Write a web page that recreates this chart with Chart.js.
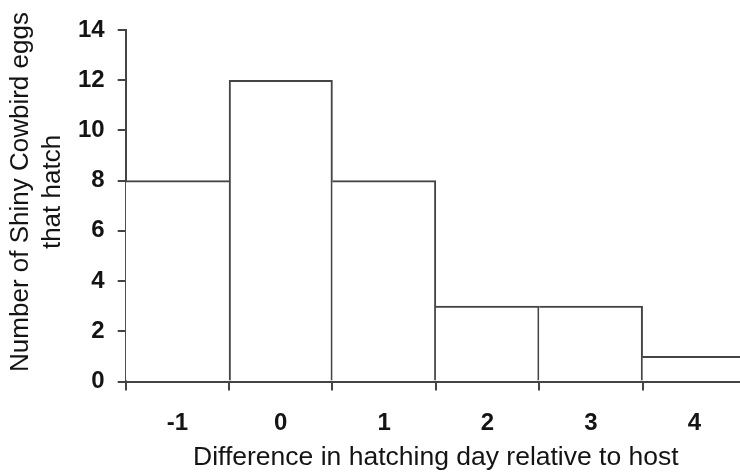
<!DOCTYPE html>
<html>
<head>
<meta charset="utf-8">
<script src="https://cdn.jsdelivr.net/npm/chart.js@4/dist/chart.umd.min.js"></script>
<style>
  body { margin: 0; background: #fff; overflow: hidden; }
  #wrap { width: 740px; height: 472px; overflow: hidden; }
</style>
</head>
<body>
<div id="wrap"><canvas id="myChart" width="746" height="472"></canvas></div>
<script>
'use strict';

let dayLabels = ['-1', '0', '1', '2', '3', '4'];
let hatchCounts = [8, 12, 8, 3, 3, 1];
let yTicks = [0, 2, 4, 6, 8, 10, 12, 14];
let yTitleLines = ['Number of Shiny Cowbird eggs', 'that hatch'];

let lineColor = '#444444';
let textColor = '#141414';

// only the taller bar draws the shared edge, so each edge is one line
function barBorder(context) {
  let i = context.dataIndex;
  let v = hatchCounts[i];
  let prev = i > 0 ? hatchCounts[i - 1] : Infinity;
  let next = i < hatchCounts.length - 1 ? hatchCounts[i + 1] : -1;
  return {
    top: 2,
    bottom: 0,
    left: v > prev ? 2 : 0,
    right: v >= next ? 2 : 0
  };
}

// y title sits a bit above the middle of the axis in the original
let yTitlePlugin = {
  id: 'yTitle',
  afterDraw(chart) {
    let c = chart.ctx;
    c.save();
    c.translate(0, 192);
    c.rotate(-Math.PI / 2);
    c.font = '26px "Liberation Sans"';
    c.fillStyle = textColor;
    c.textAlign = 'center';
    c.textBaseline = 'alphabetic';
    c.fillText(yTitleLines[0], 0, 28);
    c.fillText(yTitleLines[1], 0, 60);
    c.restore();
  }
};

function renderChart() {
  const ctx = document.getElementById('myChart');

  let config = {
    type: 'bar',
    data: {
      labels: dayLabels,
      datasets: [
        {
          label: 'Eggs that hatch',
          data: hatchCounts,
          backgroundColor: '#ffffff',
          borderColor: lineColor,
          borderWidth: barBorder,
          borderSkipped: false,
          barPercentage: 1,
          categoryPercentage: 1
        }
      ]
    },
    options: {
      responsive: false,
      animation: false,
      devicePixelRatio: 1,
      layout: {
        padding: {top: 30, left: 65, right: 0, bottom: 1}
      },
      plugins: {
        legend: {display: false},
        tooltip: {enabled: false}
      },
      scales: {
        x: {
          offset: true,
          border: {display: true, color: lineColor, width: 2},
          grid: {
            offset: true,
            drawOnChartArea: false,
            drawTicks: true,
            tickLength: 9,
            color: lineColor,
            lineWidth: 2
          },
          ticks: {
            color: textColor,
            padding: 21,
            font: {family: 'Liberation Sans', size: 24, weight: 'bold', lineHeight: 1}
          },
          title: {
            display: true,
            text: 'Difference in hatching day relative to host',
            color: textColor,
            padding: {top: -12, bottom: 0},
            font: {family: 'Liberation Sans', size: 26.5, weight: 'normal', lineHeight: 1}
          }
        },
        y: {
          min: yTicks[0],
          max: yTicks[yTicks.length - 1],
          border: {display: true, color: lineColor, width: 2},
          grid: {
            drawOnChartArea: false,
            drawTicks: true,
            tickLength: 8,
            color: lineColor,
            lineWidth: 2
          },
          afterBuildTicks: function(axis) {
            axis.ticks = yTicks.map(function(v) { return {value: v}; });
          },
          ticks: {
            color: textColor,
            padding: 13,
            font: {family: 'Liberation Sans', size: 24, weight: 'bold'}
          }
        }
      }
    },
    plugins: [yTitlePlugin]
  };

  new Chart(ctx, config);
}

renderChart();
</script>
</body>
</html>
